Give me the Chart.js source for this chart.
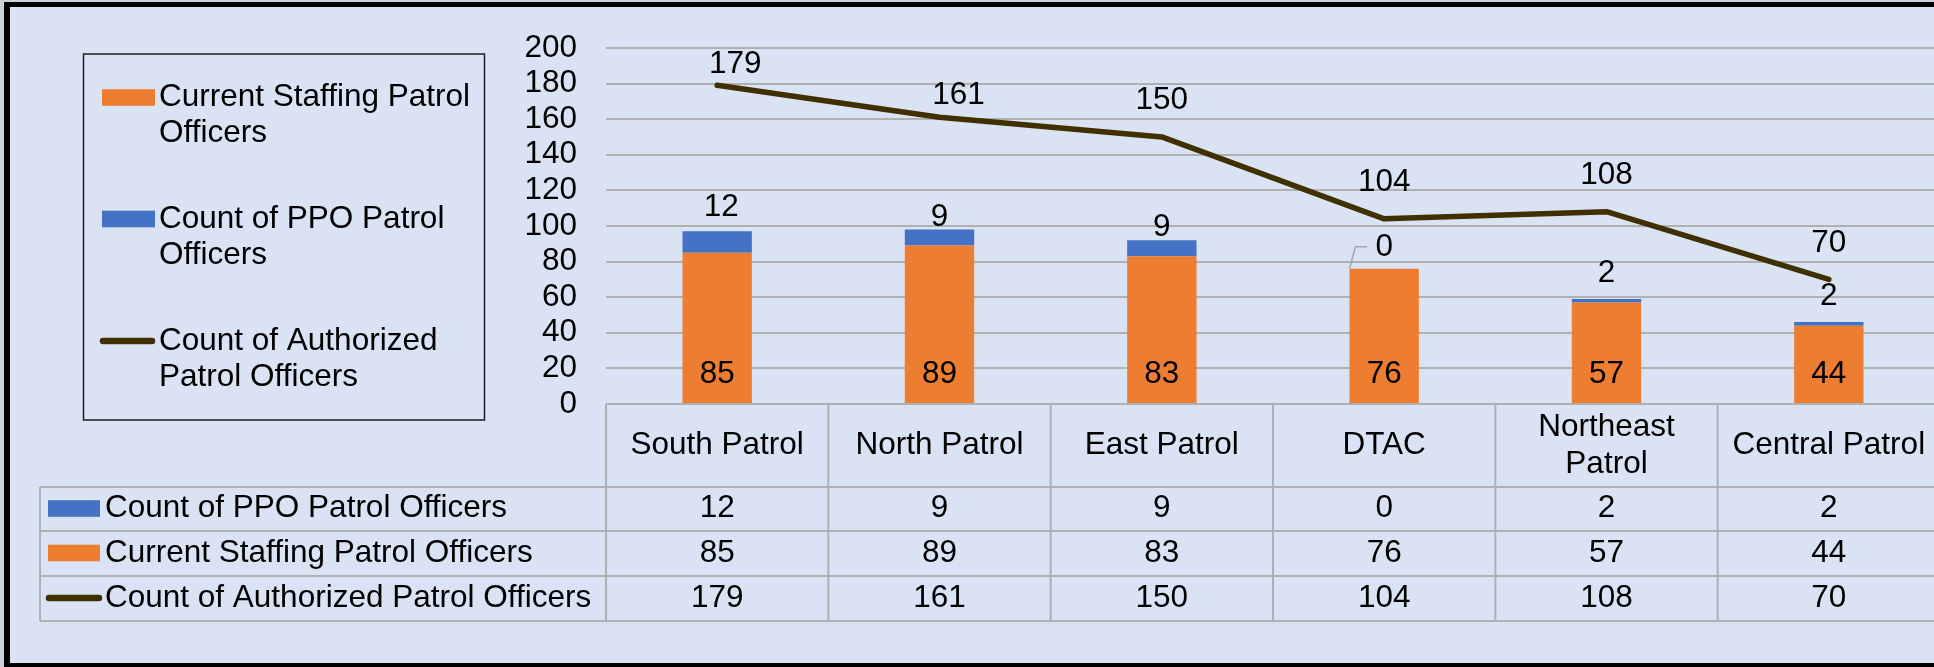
<!DOCTYPE html>
<html>
<head>
<meta charset="utf-8">
<title>Patrol Officers</title>
<script src="https://cdn.jsdelivr.net/npm/chart.js@4.4.1/dist/chart.umd.min.js"></script>
<style>
  html, body { margin: 0; padding: 0; overflow: hidden; background: #DAE3F3; }
  #wrap { width: 1934px; height: 667px; overflow: hidden; }
</style>
</head>
<body>
<div id="wrap"><canvas id="patrolChart" width="1940" height="667"></canvas></div>
<script>
// data
var categories = ['South Patrol', 'North Patrol', 'East Patrol', 'DTAC', ['Northeast', 'Patrol'], 'Central Patrol'];
var ppoOfficers = [12, 9, 9, 0, 2, 2];
var currentStaffing = [85, 89, 83, 76, 57, 44];
var authorizedOfficers = [179, 161, 150, 104, 108, 70];
var yMin = 0, yMax = 200, yStep = 20;

var FONT = "'Liberation Sans', Arial, sans-serif";
var FONT_SIZE = 31.5;
var ORANGE = '#ED7D31', BLUE = '#4472C4', BROWN = '#403000', GRID = '#B0B0B0';

Chart.defaults.font.family = FONT;
Chart.defaults.font.size = FONT_SIZE;
Chart.defaults.color = '#000';

function fontStr() { return FONT_SIZE + 'px ' + FONT; }

function wrapText(ctx, text, maxWidth) {
    var words = text.split(' ');
    var lines = [];
    var cur = '';
    words.forEach(function(w) {
        var test = cur ? cur + ' ' + w : w;
        if (cur && ctx.measureText(test).width > maxWidth) {
            lines.push(cur);
            cur = w;
        } else {
            cur = test;
        }
    });
    if (cur) lines.push(cur);
    return lines;
}

function drawSwatch(ctx, ds, x1, x2, cy) {
    if (ds.type === 'line') {
        ctx.save();
        ctx.strokeStyle = ds.borderColor;
        ctx.lineWidth = 6.5;
        ctx.lineCap = 'round';
        ctx.beginPath();
        ctx.moveTo(x1 + 3, cy);
        ctx.lineTo(x2 - 3, cy);
        ctx.stroke();
        ctx.restore();
    } else {
        ctx.fillStyle = ds.backgroundColor;
        ctx.fillRect(x1, cy - 8.3, x2 - x1, 16.6);
    }
}

// background + outer frame
var framePlugin = {
    id: 'frame',
    beforeDraw: function(chart) {
        var ctx = chart.ctx, w = chart.width, h = chart.height;
        ctx.save();
        ctx.fillStyle = '#C9D0DA';
        ctx.fillRect(0, 0, w, h);
        ctx.fillStyle = '#000';
        ctx.fillRect(4, 2, w, h - 2);
        ctx.fillStyle = '#DAE3F3';
        ctx.fillRect(10, 7, w, h - 7 - 4);
        ctx.restore();
    }
};

// value labels, placed like the Excel labels
var labelPlugin = {
    id: 'valueLabels',
    afterDatasetsDraw: function(chart, args, opts) {
        var ctx = chart.ctx;
        ctx.save();
        ctx.font = fontStr();
        ctx.fillStyle = '#000';
        ctx.textAlign = 'center';
        ctx.textBaseline = 'middle';
        chart.data.datasets.forEach(function(ds, di) {
            var meta = chart.getDatasetMeta(di);
            var place = opts[ds.labelPlace];
            meta.data.forEach(function(el, i) {
                var x = el.x + (place.dx ? place.dx[i] : 0);
                var y;
                if (ds.labelPlace === 'base') {
                    y = el.base + place.dy;
                } else {
                    y = el.y + place.dy[i];
                }
                if (place.leader && place.leader[i]) {
                    var left = el.x - el.width / 2;
                    ctx.save();
                    ctx.strokeStyle = '#A6A6A6';
                    ctx.lineWidth = 1.5;
                    ctx.beginPath();
                    ctx.moveTo(left, el.y);
                    ctx.lineTo(left + 6, el.y - 22);
                    ctx.lineTo(left + 17.5, el.y - 22);
                    ctx.stroke();
                    ctx.restore();
                }
                ctx.fillText(String(ds.data[i]), x, y);
            });
        });
        ctx.restore();
    }
};

// legend box on the left and data table under the plot
var legendTablePlugin = {
    id: 'legendTable',
    afterDraw: function(chart) {
        var ctx = chart.ctx;
        var area = chart.chartArea;
        var xScale = chart.scales.x;
        var dsets = chart.data.datasets;
        ctx.save();
        ctx.font = fontStr();
        ctx.fillStyle = '#000';
        ctx.textBaseline = 'middle';

        // legend box
        ctx.strokeStyle = '#1E1E1E';
        ctx.lineWidth = 1.5;
        ctx.strokeRect(83.5, 54, 401, 366);
        var legendOrder = [0, 1, 2];
        var entryY = [97.5, 219, 341];
        legendOrder.forEach(function(di, k) {
            var ds = dsets[di];
            drawSwatch(ctx, ds, ds.type === 'line' ? 100 : 102, 155, entryY[k]);
            ctx.fillStyle = '#000';
            ctx.textAlign = 'left';
            var lines = wrapText(ctx, ds.label, 320);
            lines.forEach(function(t, j) {
                ctx.fillText(t, 159, entryY[k] + j * 36);
            });
        });

        // data table
        var n = categories.length;
        var catW = (area.right - area.left) / n;
        var top = area.bottom, headBottom = 487;
        var rowLines = [487, 531, 576, 621];
        var tableLeft = 40;

        ctx.strokeStyle = GRID;
        ctx.lineWidth = 2;
        ctx.beginPath();
        ctx.moveTo(area.left, top);
        ctx.lineTo(area.right, top);
        rowLines.forEach(function(y) {
            ctx.moveTo(tableLeft, y);
            ctx.lineTo(area.right, y);
        });
        for (var i = 0; i <= n; i++) {
            var bx = area.left + i * catW;
            ctx.moveTo(bx, top);
            ctx.lineTo(bx, rowLines[rowLines.length - 1]);
        }
        ctx.moveTo(tableLeft, headBottom);
        ctx.lineTo(tableLeft, rowLines[rowLines.length - 1]);
        ctx.stroke();

        // header
        ctx.textAlign = 'center';
        categories.forEach(function(c, i) {
            var cx = xScale.getPixelForValue(i);
            var lines = Array.isArray(c) ? c : [c];
            var mid = (top + headBottom) / 2;
            var start = mid - (lines.length - 1) * 37 / 2;
            lines.forEach(function(t, j) {
                ctx.fillText(t, cx, start + j * 37);
            });
        });

        // rows: PPO, current staffing, authorized
        var rowOrder = [1, 0, 2];
        rowOrder.forEach(function(di, r) {
            var ds = dsets[di];
            var cy = (rowLines[r] + rowLines[r + 1]) / 2 - 0.5;
            drawSwatch(ctx, ds, ds.type === 'line' ? 46 : 48, ds.type === 'line' ? 102 : 100, cy);
            ctx.fillStyle = '#000';
            ctx.textAlign = 'left';
            ctx.fillText(ds.label, 105, cy);
            ctx.textAlign = 'center';
            ds.data.forEach(function(v, i) {
                ctx.fillText(String(v), xScale.getPixelForValue(i), cy);
            });
        });
        ctx.restore();
    }
};

var ctx = document.getElementById('patrolChart').getContext('2d');
new Chart(ctx, {
    type: 'bar',
    data: {
        labels: categories,
        datasets: [{
            type: 'bar',
            label: 'Current Staffing Patrol Officers',
            data: currentStaffing,
            backgroundColor: ORANGE,
            stack: 'staff',
            order: 1,
            barPercentage: 0.312,
            categoryPercentage: 1,
            labelPlace: 'base'
        }, {
            type: 'bar',
            label: 'Count of PPO Patrol Officers',
            data: ppoOfficers,
            backgroundColor: BLUE,
            stack: 'staff',
            order: 1,
            barPercentage: 0.312,
            categoryPercentage: 1,
            labelPlace: 'top'
        }, {
            type: 'line',
            label: 'Count of Authorized Patrol Officers',
            data: authorizedOfficers,
            borderColor: BROWN,
            backgroundColor: BROWN,
            borderWidth: 5.5,
            borderCapStyle: 'round',
            borderJoinStyle: 'round',
            pointRadius: 0,
            tension: 0,
            fill: false,
            stack: 'auth',
            order: 0,
            labelPlace: 'line'
        }]
    },
    options: {
        responsive: false,
        animation: false,
        layout: { padding: { top: 47, bottom: 263, left: 0, right: 0 } },
        plugins: {
            legend: { display: false },
            tooltip: { enabled: false },
            valueLabels: {
                base: { dy: -29 },
                top: { dy: [-23.5, -12, -13, -21, -26, -26], dx: [4, 0, 0, 0, 0, 0],
                       leader: [false, false, false, true, false, false] },
                line: { dy: [-21, -22, -36.5, -36.5, -36, -36.5], dx: [18, 19, 0, 0, 0, 0] }
            }
        },
        scales: {
            x: { display: false, stacked: true },
            y: {
                stacked: true,
                min: yMin,
                max: yMax,
                ticks: { stepSize: yStep, autoSkip: false, padding: 29, color: '#000', font: { size: FONT_SIZE } },
                grid: { color: GRID, lineWidth: 2, drawTicks: false },
                border: { display: false },
                afterFit: function(scale) { scale.width = 606; }
            }
        }
    },
    plugins: [framePlugin, labelPlugin, legendTablePlugin]
});
</script>
</body>
</html>
